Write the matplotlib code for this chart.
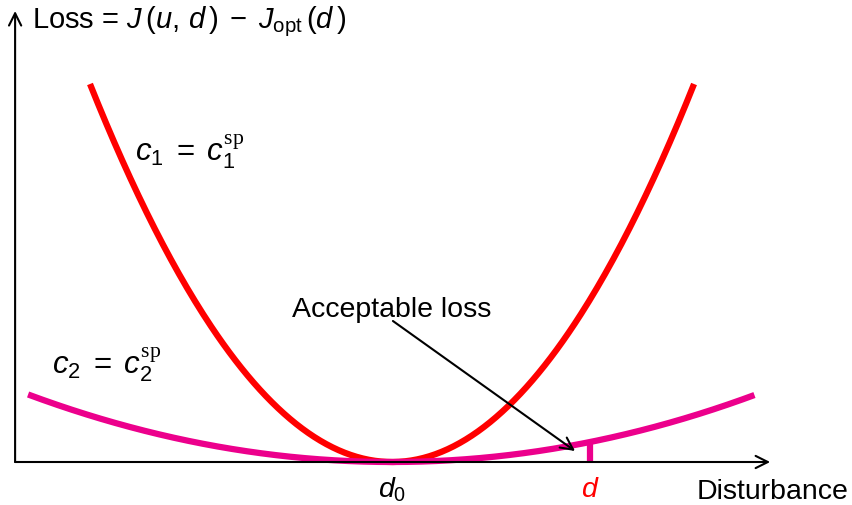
import numpy as np
import matplotlib
matplotlib.use("Agg")
import matplotlib.pyplot as plt

plt.rcParams["font.family"] = "Liberation Sans"
plt.rcParams["mathtext.fontset"] = "custom"
plt.rcParams["mathtext.rm"] = "Liberation Sans"
plt.rcParams["mathtext.it"] = "Liberation Sans:italic"
plt.rcParams["mathtext.cal"] = "Liberation Serif"

# loss curves: loss = k * (d - d0)^2 over a disturbance range
d0 = 0.0
d_tick = 0.656
k_c1 = 3.78
range_c1 = (-1.0, 1.0)
k_c2 = 0.465
range_c2 = (-1.205, 1.2)

red = "#ff0000"
pink = "#ec008c"

fig = plt.figure(figsize=(8.52, 5.06), dpi=100)
ax = fig.add_axes([0, 0, 1, 1])
ax.set_xlim(-1.298, 1.523)
ax.set_ylim(-0.43, 4.63)
ax.axis("off")

# axes with arrow heads
arrow = dict(arrowstyle="->", lw=1.5, color="black", mutation_scale=22,
             shrinkA=0, shrinkB=0)
ax.annotate("", xy=(-1.248, 4.51), xytext=(-1.248, 0), arrowprops=arrow)
ax.annotate("", xy=(1.252, 0), xytext=(-1.248, 0), arrowprops=arrow)

lw = 4.5
d1 = np.linspace(*range_c1, 300)
ax.plot(d1, k_c1 * (d1 - d0) ** 2, color=red, lw=lw, solid_capstyle="butt")
d2 = np.linspace(*range_c2, 300)
ax.plot(d2, k_c2 * (d2 - d0) ** 2, color=pink, lw=lw, solid_capstyle="butt")

# tick at d up to the flat curve
ax.plot([d_tick, d_tick], [0, k_c2 * (d_tick - d0) ** 2], color=pink, lw=lw,
        solid_capstyle="butt")

ax.annotate("", xy=(0.606, 0.11), xytext=(0.003, 1.41),
            arrowprops=dict(arrowstyle="->", lw=1.5, color="black",
                            mutation_scale=22, shrinkA=0, shrinkB=0))

fs = 20.5
ax.text(-1.192, 4.41,
        r"Loss = $J\,(u,\,d\,)\;-\;J_{\mathrm{opt}}\,(d\,)$",
        fontsize=fs + 0.5, ha="left", va="center")
ax.text(-0.851, 3.11, r"$c_1\;=\;c_1^{\mathcal{sp}}$", fontsize=fs + 2,
        ha="left", va="center")
ax.text(-1.126, 0.98, r"$c_2\;=\;c_2^{\mathcal{sp}}$", fontsize=fs + 2,
        ha="left", va="center")
ax.text(0.0, 1.53, "Acceptable loss", fontsize=fs, ha="center", va="center")
ax.text(d0, -0.27, r"$d_0$", fontsize=fs, ha="center", va="center")
ax.text(d_tick, -0.27, r"$d$", fontsize=fs, ha="center", va="center",
        color=red)
ax.text(1.01, -0.29, "Disturbance", fontsize=fs, ha="left", va="center")

fig.savefig("out.png", dpi=100)
